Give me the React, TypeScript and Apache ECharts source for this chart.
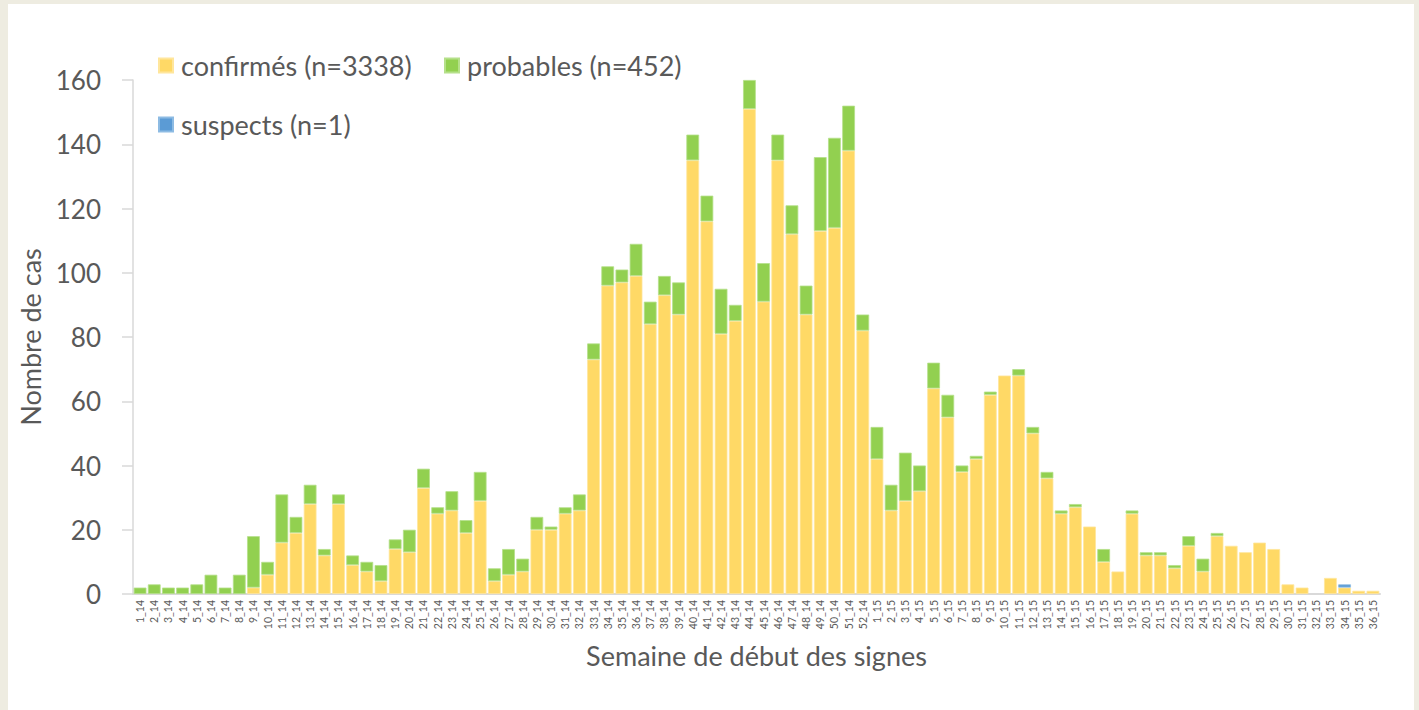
import React, { useEffect, useRef } from "react";
import * as echarts from "echarts";

const weeks2014: string[] = [];
for (let i = 1; i <= 52; i++) weeks2014.push(i + "_14");
const weeks2015: string[] = [];
for (let i = 1; i <= 36; i++) weeks2015.push(i + "_15");
const categories = [...weeks2014, ...weeks2015];

const confirmes = [
  0, 0, 0, 0, 0, 0, 0, 0, 2, 6, 16, 19, 28, 12, 28, 9, 7, 4, 14, 13,
  33, 25, 26, 19, 29, 4, 6, 7, 20, 20, 25, 26, 73, 96, 97, 99, 84, 93, 87, 135,
  116, 81, 85, 151, 91, 135, 112, 87, 113, 114, 138, 82,
  42, 26, 29, 32, 64, 55, 38, 42, 62, 68, 68, 50, 36, 25, 27, 21, 10, 7, 25, 12,
  12, 8, 15, 7, 18, 15, 13, 16, 14, 3, 2, 0, 5, 2, 1, 1,
];
const probables = [
  2, 3, 2, 2, 3, 6, 2, 6, 16, 4, 15, 5, 6, 2, 3, 3, 3, 5, 3, 7,
  6, 2, 6, 4, 9, 4, 8, 4, 4, 1, 2, 5, 5, 6, 4, 10, 7, 6, 10, 8,
  8, 14, 5, 9, 12, 8, 9, 9, 23, 28, 14, 5,
  10, 8, 15, 8, 8, 7, 2, 1, 1, 0, 2, 2, 2, 1, 1, 0, 4, 0, 1, 1,
  1, 1, 3, 4, 1, 0, 0, 0, 0, 0, 0, 0, 0, 0, 0, 0,
];
const suspects = [
  0, 0, 0, 0, 0, 0, 0, 0, 0, 0, 0, 0, 0, 0, 0, 0, 0, 0, 0, 0,
  0, 0, 0, 0, 0, 0, 0, 0, 0, 0, 0, 0, 0, 0, 0, 0, 0, 0, 0, 0,
  0, 0, 0, 0, 0, 0, 0, 0, 0, 0, 0, 0,
  0, 0, 0, 0, 0, 0, 0, 0, 0, 0, 0, 0, 0, 0, 0, 0, 0, 0, 0, 0,
  0, 0, 0, 0, 0, 0, 0, 0, 0, 0, 0, 0, 0, 1, 0, 0,
];

const names = ["confirmés (n=3338)", "probables (n=452)", "suspects (n=1)"];
const colors = ["#FFD966", "#92D050", "#5B9BD5"];
const borders = ["#FFE69C", "#B5E08A", "#8DBBE3"];

const FONT = "Lato, 'Open Sans', sans-serif";
const TXT = "#595959";

export default function App() {
  const ref = useRef<HTMLDivElement>(null);
  useEffect(() => {
    if (!ref.current) return;
    const chart = echarts.init(ref.current, undefined, { renderer: "svg" });
    const legendBase = {
      orient: "horizontal",
      itemWidth: 14,
      itemHeight: 14,
      icon: "rect",
      textStyle: { fontSize: 27, color: TXT, fontFamily: FONT, padding: [0, 0, 0, 3] },
      padding: 0,
      selectedMode: false,
    };
    const data = [confirmes, probables, suspects].map((arr) => arr.map((v) => (v === 0 ? null : v)));
    chart.setOption({
      animation: false,
      backgroundColor: "transparent",
      textStyle: { fontFamily: FONT },
      legend: [
        { ...legendBase, data: [names[0]], left: 158, top: 52 },
        { ...legendBase, data: [names[1]], left: 444, top: 52 },
        { ...legendBase, data: [names[2]], left: 158, top: 111 },
      ],
      grid: { left: 133, right: 39, top: 80, bottom: 116, containLabel: false },
      xAxis: {
        type: "category",
        data: categories,
        name: "Semaine de début des signes",
        nameLocation: "middle",
        nameGap: 48,
        nameTextStyle: { fontSize: 27, color: TXT, fontFamily: FONT },
        axisLine: { show: true, lineStyle: { color: "#D9D9D9", width: 2 } },
        axisTick: { show: false },
        axisLabel: {
          interval: 0,
          rotate: 90,
          fontSize: 10.5,
          color: TXT,
          margin: 6,
          fontFamily: FONT,
        },
      },
      yAxis: {
        type: "value",
        min: 0,
        max: 160,
        interval: 20,
        name: "Nombre de cas",
        nameLocation: "middle",
        nameRotate: 90,
        nameGap: 89,
        nameTextStyle: { fontSize: 27, color: TXT, fontFamily: FONT },
        axisLine: { show: true, lineStyle: { color: "#D9D9D9", width: 1.5 } },
        axisTick: { show: true, length: 11, lineStyle: { color: "#D9D9D9", width: 1.5 } },
        splitLine: { show: false },
        axisLabel: { fontSize: 26, color: TXT, margin: 32, fontFamily: FONT },
      },
      series: names.map((n, i) => ({
        name: n,
        type: "bar",
        stack: "total",
        barCategoryGap: "10%",
        data: data[i],
        itemStyle: { color: colors[i], borderColor: borders[i], borderWidth: 0.8 },
        emphasis: { disabled: true },
      })),
    });
    return () => chart.dispose();
  }, []);
  return (
    <div style={{ position: "fixed", left: 0, top: 0, width: 1419, height: 710, background: "#EEECE1" }}>
      <div style={{ position: "absolute", left: 8, top: 4, width: 1406, height: 706, background: "#FFFFFF" }} />
      <div ref={ref} style={{ position: "absolute", left: 0, top: 0, width: 1419, height: 710 }} />
    </div>
  );
}
